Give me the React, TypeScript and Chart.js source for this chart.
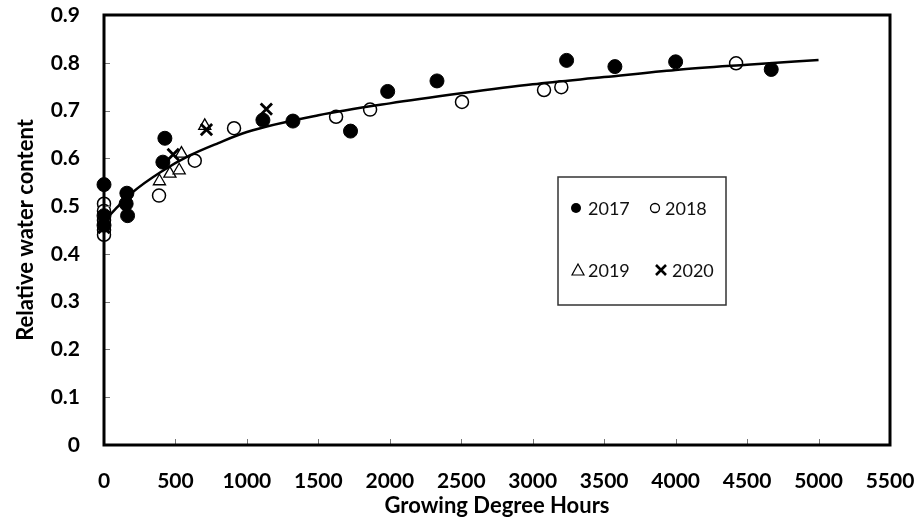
import React, { useEffect, useRef } from "react";
import { Chart, registerables } from "chart.js";

Chart.register(...registerables);

// ---- Data ----
const gdh2017 = [0, 0, 0, 160, 155, 165, 426, 412, 1112, 1322, 1725, 1985, 2330, 3237, 3575, 4000, 4669];
const rwc2017 = [0.545, 0.48, 0.46, 0.527, 0.505, 0.48, 0.642, 0.592, 0.68, 0.678, 0.657, 0.74, 0.762, 0.805, 0.792, 0.802, 0.786];

const gdh2018 = [0, 0, 0, 0, 0, 385, 635, 910, 1624, 1862, 2505, 3079, 3200, 4423];
const rwc2018 = [0.505, 0.49, 0.47, 0.45, 0.44, 0.522, 0.595, 0.663, 0.687, 0.702, 0.718, 0.743, 0.749, 0.799];

const gdh2019 = [0, 0, 388, 461, 526, 542, 705];
const rwc2019 = [0.46, 0.445, 0.552, 0.568, 0.575, 0.61, 0.668];

const gdh2020 = [0, 484, 717, 1136];
const rwc2020 = [0.455, 0.608, 0.66, 0.703];

const fitGdh = [0, 100, 200, 400, 600, 800, 1000, 1500, 2000, 2500, 3000, 3500, 4000, 4500, 5000];
const fitRwc = [0.468, 0.5, 0.529, 0.572, 0.606, 0.632, 0.655, 0.69, 0.715, 0.736, 0.755, 0.77, 0.785, 0.796, 0.806];

const xTickValues = [0, 500, 1000, 1500, 2000, 2500, 3000, 3500, 4000, 4500, 5000, 5500];
const yTickValues = [0, 0.1, 0.2, 0.3, 0.4, 0.5, 0.6, 0.7, 0.8, 0.9];
const seriesNames = ["2017", "2018", "2019", "2020"];

const FONT = "Lato, 'Open Sans', sans-serif";

function pts(xs: number[], ys: number[]) {
  return xs.map((x, i) => ({ x, y: ys[i] }));
}

const framePlugin = {
  id: "frame",
  afterDatasetsDraw(chart: any) {
    const { ctx, chartArea, scales } = chart;
    const { left, right, top, bottom } = chartArea;
    ctx.save();
    // inner tick marks
    ctx.strokeStyle = "#777";
    ctx.lineWidth = 1;
    ctx.beginPath();
    xTickValues.forEach((v) => {
      const px = Math.round(scales.x.getPixelForValue(v)) + 0.5;
      ctx.moveTo(px, bottom);
      ctx.lineTo(px, bottom - 6);
    });
    yTickValues.forEach((v) => {
      const py = Math.round(scales.y.getPixelForValue(v)) + 0.5;
      ctx.moveTo(left, py);
      ctx.lineTo(left + 6, py);
    });
    ctx.stroke();
    // frame
    ctx.strokeStyle = "#000";
    ctx.lineWidth = 3;
    ctx.strokeRect(left, top, right - left, bottom - top);
    ctx.restore();
  },
  afterDraw(chart: any) {
    const { ctx } = chart;
    ctx.save();
    // legend box
    ctx.strokeStyle = "#333";
    ctx.lineWidth = 1.5;
    ctx.strokeRect(558, 177, 168, 128);
    ctx.fillStyle = "#111";
    ctx.font = `18px ${FONT}`;
    ctx.textBaseline = "middle";
    ctx.textAlign = "left";
    const r1 = 208;
    const r2 = 270;
    // 2017 filled circle
    ctx.beginPath();
    ctx.arc(576, r1, 5, 0, Math.PI * 2);
    ctx.fillStyle = "#000";
    ctx.fill();
    ctx.fillStyle = "#111";
    ctx.fillText(seriesNames[0], 588, r1 + 1);
    // 2018 hollow circle
    ctx.beginPath();
    ctx.arc(655, r1, 4.5, 0, Math.PI * 2);
    ctx.strokeStyle = "#000";
    ctx.lineWidth = 1.3;
    ctx.stroke();
    ctx.fillText(seriesNames[1], 665, r1 + 1);
    // 2019 triangle
    ctx.beginPath();
    ctx.moveTo(578, r2 - 6);
    ctx.lineTo(584, r2 + 5);
    ctx.lineTo(572, r2 + 5);
    ctx.closePath();
    ctx.lineWidth = 1.2;
    ctx.stroke();
    ctx.fillText(seriesNames[2], 588, r2 + 1);
    // 2020 cross
    ctx.beginPath();
    ctx.moveTo(656, r2 - 5);
    ctx.lineTo(666, r2 + 5);
    ctx.moveTo(666, r2 - 5);
    ctx.lineTo(656, r2 + 5);
    ctx.lineWidth = 2.6;
    ctx.stroke();
    ctx.fillText(seriesNames[3], 672, r2 + 1);
    ctx.restore();
  },
};

export default function App() {
  const canvasRef = useRef<HTMLCanvasElement | null>(null);

  useEffect(() => {
    document.body.style.margin = "0";
    const canvas = canvasRef.current;
    if (!canvas) return;
    const chart = new Chart(canvas, {
      type: "scatter",
      data: {
        datasets: [
          {
            type: "line",
            label: "fit",
            data: pts(fitGdh, fitRwc),
            borderColor: "#000",
            borderWidth: 2.5,
            pointRadius: 0,
            cubicInterpolationMode: "monotone",
            fill: false,
            order: 0,
          } as any,
          {
            label: seriesNames[0],
            data: pts(gdh2017, rwc2017),
            pointStyle: "circle",
            pointRadius: 7,
            backgroundColor: "#000",
            borderColor: "#000",
            borderWidth: 1,
            clip: false,
            order: 1,
          },
          {
            label: seriesNames[1],
            data: pts(gdh2018, rwc2018),
            pointStyle: "circle",
            pointRadius: 6.5,
            backgroundColor: "#fff",
            borderColor: "#000",
            borderWidth: 1.5,
            clip: false,
            order: 2,
          },
          {
            label: seriesNames[2],
            data: pts(gdh2019, rwc2019),
            pointStyle: "triangle",
            pointRadius: 7,
            backgroundColor: "#fff",
            borderColor: "#000",
            borderWidth: 1.3,
            clip: false,
            order: 3,
          },
          {
            label: seriesNames[3],
            data: pts(gdh2020, rwc2020),
            pointStyle: "crossRot",
            pointRadius: 8,
            backgroundColor: "#000",
            borderColor: "#000",
            borderWidth: 2.8,
            clip: false,
            order: 1,
          },
        ],
      },
      options: {
        animation: false,
        responsive: true,
        maintainAspectRatio: false,
        layout: { padding: { top: 15, right: 30, left: 0, bottom: 0 } },
        plugins: {
          legend: { display: false },
          tooltip: { enabled: false },
        },
        scales: {
          x: {
            type: "linear",
            min: 0,
            max: 5500,
            afterBuildTicks: (axis: any) => {
              axis.ticks = xTickValues.map((v) => ({ value: v }));
            },
            afterFit: (axis: any) => {
              axis.height = 77;
              axis.paddingLeft = 0;
              axis.paddingRight = 0;
            },
            grid: { display: false, drawTicks: false },
            border: { display: false },
            ticks: {
              padding: 24,
              color: "#000",
              font: { family: FONT, size: 21, weight: "bold" },
              maxRotation: 0,
              autoSkip: false,
              callback: (v: any) => String(v),
            },
            title: {
              display: true,
              text: "Growing Degree Hours",
              color: "#000",
              font: { family: FONT, size: 22, weight: "bold" },
              padding: { top: 0, bottom: 3 },
            },
          },
          y: {
            type: "linear",
            min: 0,
            max: 0.9,
            afterBuildTicks: (axis: any) => {
              axis.ticks = yTickValues.map((v) => ({ value: v }));
            },
            afterFit: (axis: any) => {
              axis.width = 104;
              axis.paddingTop = 0;
              axis.paddingBottom = 0;
            },
            grid: { display: false, drawTicks: false },
            border: { display: false },
            ticks: {
              padding: 24,
              color: "#000",
              font: { family: FONT, size: 21, weight: "bold" },
              autoSkip: false,
              callback: (v: any) => (v === 0 ? "0" : Number(v).toFixed(1)),
            },
            title: {
              display: true,
              text: "Relative water content",
              color: "#000",
              font: { family: FONT, size: 22, weight: "bold" },
              padding: { top: 13, bottom: 0 },
            },
          },
        },
      },
      plugins: [framePlugin],
    });
    return () => chart.destroy();
  }, []);

  return (
    <div style={{ width: "920px", height: "522px", position: "relative" }}>
      <canvas ref={canvasRef} />
    </div>
  );
}
